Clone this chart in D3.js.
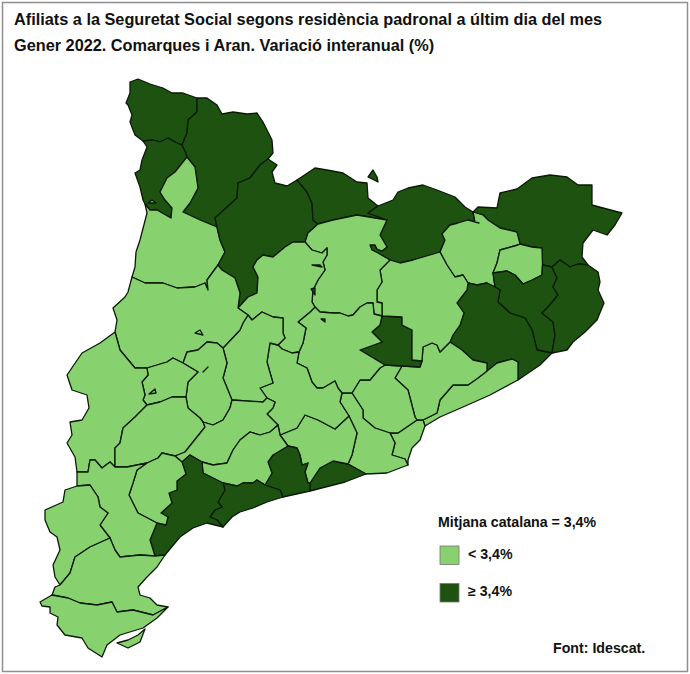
<!DOCTYPE html>
<html>
<head>
<meta charset="utf-8">
<script src="https://cdn.jsdelivr.net/npm/d3@7"></script>
<style>
  html, body { margin: 0; background: #fff; }
  text { font-family: "Liberation Sans", Arial, sans-serif; font-weight: bold; fill: #111; }
</style>
</head>
<body>
<div id="chart"></div>
<script>
const titols = [
  'Afiliats a la Seguretat Social segons residència padronal a últim dia del mes',
  'Gener 2022. Comarques i Aran. Variació interanual (%)'
];
const classes = ['< 3,4%', '≥ 3,4%'];
const mitjana = 'Mitjana catalana = 3,4%';
const font = 'Font: Idescat.';

// comarques above the catalan average, the rest are below
const sobreMitjana = ['Aran', 'Alta Ribagorça', 'Pallars Sobirà', 'Alt Urgell', 'Cerdanya', 'Ripollès',
  'Alt Empordà', 'Gironès', 'Baix Empordà', 'Selva', 'Moianès', 'Baix Penedès', 'Garraf', 'Tarragonès', 'Baix Camp'];

// shared borders
const vores = {
  aranExt: [[143,141],[135,135],[130,122],[132,115],[128,105],[126,103],[130,93],[130,82],[138,79],[150,84],[163,88],[172,93],[183,93],[197,98]],
  aranSob: [[197,98],[197,112],[188,120],[187,133],[182,145]],
  aranRib: [[182,145],[175,142],[168,138],[160,142],[153,140],[143,141]],
  ribSob: [[182,145],[186,153],[187,157]],
  ribExt: [[143,141],[147,147],[142,160],[140,170],[135,173],[140,187],[143,200],[145,204]],
  ribJus: [[187,157],[175,172],[167,178],[160,192],[165,200],[172,208],[171,218],[157,210],[150,210],[145,204]],
  sobJus: [[187,157],[195,167],[198,188],[190,203],[183,212],[200,220],[217,227]],
  sobAur: [[268,159],[260,165],[250,178],[238,183],[237,198],[215,218],[217,227]],
  sobExt: [[197,98],[207,98],[217,105],[222,114],[233,112],[247,114],[257,113],[263,122],[272,140],[273,153],[268,159]],
  jusAur: [[217,227],[220,240],[225,252],[218,265]],
  jusExt: [[145,204],[147,213],[140,240],[136,252],[135,267],[132,277]],
  jusNog: [[132,277],[145,283],[163,283],[177,288],[195,287],[205,283],[208,290],[207,280],[218,265]],
  aurExt: [[268,159],[277,165],[272,172],[275,183],[287,186],[297,180]],
  aurCer: [[297,180],[307,192],[312,203],[313,220],[318,224]],
  aurBer: [[318,224],[308,233],[305,242]],
  aurSol: [[305,242],[293,242],[285,247],[273,257],[263,255],[257,260],[253,267],[258,277],[257,293],[248,297],[238,308]],
  aurNog: [[238,308],[240,293],[235,278],[222,270],[218,265]],
  cerExt: [[297,180],[300,178],[315,168],[327,170],[343,173],[357,182],[367,183],[368,198],[378,206]],
  cerRip: [[378,206],[368,213],[387,220]],
  cerBer: [[387,220],[357,215],[333,220],[318,224]],
  ripExt: [[378,206],[393,200],[398,192],[408,188],[423,185],[437,190],[455,197],[465,207],[473,212]],
  ripGtx: [[473,212],[475,222],[479,223],[468,220],[458,223],[450,225],[442,234],[445,240],[440,252]],
  ripOso: [[440,252],[430,255],[413,260],[400,263],[390,260]],
  ripBer: [[390,260],[378,253],[372,250],[370,245],[375,245],[377,249],[382,251],[387,247],[380,235],[387,220]],
  aeExt: [[473,212],[478,207],[497,208],[500,193],[517,189],[532,178],[550,175],[567,177],[578,185],[592,185],[592,205],[603,208],[622,213],[615,225],[607,235],[593,230],[583,243],[582,257],[588,265]],
  aeGtx: [[473,212],[483,215],[488,220],[500,228],[517,232],[520,244]],
  aeEst: [[520,244],[532,247],[542,248],[542.5,265]],
  aeGir: [[542.5,265],[552,267]],
  aeBem: [[552,267],[560,260],[570,267],[578,264],[588,265]],
  gtxEst: [[520,244],[518,245],[500,250],[497,263],[493,273]],
  gtxGir: [[493,273],[495,287]],
  gtxSel: [[495,287],[487,283],[477,285],[468,283]],
  gtxOso: [[468,283],[463,275],[455,277],[447,265],[440,252]],
  estGir: [[493,273],[507,271],[515,275],[523,284],[532,280],[542,275],[542.5,265]],
  girBem: [[552,267],[557,278],[553,287],[558,295],[548,307],[542,313],[553,322],[555,335],[552,353]],
  girSel: [[495,287],[500,290],[498,302],[510,313],[525,318],[532,330],[535,342],[537,350],[552,353]],
  bemExt: [[588,265],[598,272],[600,282],[598,290],[604,303],[597,320],[585,332],[573,342],[567,350],[552,353]],
  selExt: [[552,353],[540,365],[518,380]],
  selOso: [[468,283],[467,290],[457,303],[464,313],[460,325],[453,335],[450,342]],
  selVor: [[450,342],[462,350],[473,360],[487,363],[487,371]],
  selMar: [[487,371],[497,363],[512,359],[518,362],[518,380]],
  marExt: [[518,380],[490,395],[463,407],[440,417],[425,426]],
  marVor: [[487,371],[478,378],[468,385],[453,385],[440,400],[437,413],[423,420]],
  marBar: [[423,420],[425,426]],
  barVor: [[417,420],[423,420]],
  barExt: [[425,426],[420,440],[412,448],[408,460],[408,465]],
  barLlo: [[390,433],[395,443],[392,455],[405,459],[408,465]],
  barVoc: [[390,433],[398,433],[417,420]],
  lloVoc: [[352,393],[363,410],[363,418],[375,428],[390,433]],
  lloExt: [[408,465],[400,468],[387,473],[366,474]],
  lloGrf: [[348,464],[366,474]],
  lloApe: [[349,416],[357,433],[352,455],[348,464]],
  lloAno: [[342,393],[340,402],[349,416]],
  lloBag: [[342,393],[352,393]],
  vocBag: [[352,393],[360,380],[370,380],[380,368],[385,365]],
  vocMoi: [[385,365],[402,366]],
  vocVor: [[402,366],[395,378],[408,390],[415,417],[417,420]],
  vorMoi: [[402,366],[420,367],[422,361]],
  vorOso: [[422,361],[423,347],[432,343],[437,345],[440,352],[450,342]],
  osoMoi: [[422,361],[412,360],[412,330],[402,325],[402,317],[382,316]],
  osoBer: [[390,260],[380,270],[382,282],[377,290],[377,302],[382,303],[382,316]],
  bagMoi: [[382,316],[380,325],[372,332],[382,342],[360,350],[385,365]],
  bagBer: [[315,307],[320,312],[333,313],[340,313],[348,316],[353,315],[360,307],[367,303],[373,303],[374,314],[382,316]],
  bagSol: [[315,307],[310,312],[298,322],[306,328],[303,343],[299,352]],
  bagAno: [[299,352],[297,363],[307,368],[312,382],[317,388],[323,388],[335,381],[338,388],[342,393]],
  solBer: [[305,242],[312,250],[322,253],[327,248],[327,255],[323,262],[325,270],[318,280],[313,290],[312,302],[315,307]],
  solAno: [[299,352],[292,353],[282,349],[278,345]],
  solSeg: [[278,345],[285,338],[283,333],[283,318],[273,317],[262,312],[252,320],[248,315]],
  solNog: [[238,308],[248,315]],
  segNog: [[248,315],[243,323],[240,330],[223,348]],
  segAno: [[278,345],[270,343],[267,362],[273,383],[260,388],[267,398]],
  segUrg: [[223,348],[227,363],[223,378],[232,400]],
  segCon: [[232,400],[263,402],[267,398]],
  conAno: [[267,398],[275,402],[273,408],[267,414],[278,425]],
  conCam: [[278,425],[270,432],[260,435],[250,432],[240,440],[233,450],[227,463],[213,465],[202,462]],
  conUrg: [[232,400],[230,408],[223,420],[213,425],[203,422]],
  conGar: [[203,422],[205,427],[197,437],[185,452],[175,456]],
  conPri: [[175,456],[182,462]],
  conBca: [[182,462],[190,455],[202,462]],
  urgGar: [[186,397],[188,408],[200,418],[203,422]],
  urgPla: [[183,363],[198,372],[188,382],[186,397]],
  urgNog: [[183,363],[187,352],[198,350],[207,342],[217,343],[223,348]],
  plaNog: [[147,368],[167,362],[173,358],[183,363]],
  plaSgr: [[147,368],[148,375],[142,382],[145,395],[143,400],[147,405]],
  plaGar: [[147,405],[160,402],[172,397],[186,397]],
  nogSgr: [[115,332],[120,350],[135,368],[147,368]],
  nogExt: [[132,277],[128,292],[125,297],[113,308],[117,320],[115,332]],
  sgrExt: [[115,332],[100,343],[82,353],[67,375],[72,390],[87,395],[89,408],[82,420],[70,422],[72,435],[67,443],[75,457],[77,472]],
  sgrRib: [[77,472],[88,472],[90,460],[95,460],[102,468],[110,462],[115,467]],
  sgrGar: [[147,405],[135,417],[123,428],[120,443],[115,448],[115,467]],
  garRib: [[115,467],[127,467],[147,463]],
  garPri: [[147,463],[158,458],[162,453],[175,456]],
  priRib: [[147,463],[137,470],[133,483],[129,495],[135,507],[138,513],[157,523]],
  priBca: [[157,523],[166,525],[168,517],[161,513],[172,503],[169,493],[177,490],[177,481],[186,474],[182,462]],
  ribBca: [[157,523],[150,540],[155,556]],
  bcaEbr: [[155,556],[165,555]],
  ribEbr: [[110,538],[115,550],[120,557],[140,555],[155,556]],
  ribTer: [[77,486],[90,485],[98,497],[100,507],[108,513],[100,525],[110,538]],
  ribExt2: [[77,472],[77,486]],
  terExt: [[77,486],[65,490],[63,502],[45,510],[45,520],[50,532],[57,537],[60,550],[53,565],[55,577],[60,585]],
  terEbr: [[60,585],[70,573],[75,557],[90,547],[110,538]],
  ebrExt: [[165,555],[157,567],[147,577],[138,587],[140,595],[150,598],[157,605],[168,607]],
  ebrMon: [[52,595],[68,598],[80,603],[97,605],[112,602],[117,612],[133,610],[153,615],[168,607]],
  ebrExt2: [[60,585],[55,587],[52,595]],
  monExt: [[52,595],[40,602],[42,606],[50,607],[50,613],[58,617],[57,625],[65,635],[82,638],[88,648],[102,657],[107,645],[120,635],[143,628],[157,618],[168,607]],
  bcaExt: [[223,527],[207,523],[193,528],[180,537],[165,555]],
  bcaTar: [[223,483],[225,490],[218,502],[222,507],[215,510],[210,517],[217,520],[223,527]],
  bcaCam: [[202,462],[203,473],[223,483]],
  tarCam: [[223,483],[237,486],[243,483],[253,483],[257,480],[265,485]],
  tarExt: [[283,497],[267,502],[253,508],[240,512],[232,517],[223,527]],
  tarBpe: [[265,485],[280,490],[283,497]],
  bpeCam: [[265,485],[272,473],[268,462],[273,455],[288,446]],
  bpeExt: [[310,491],[283,497]],
  bpeApe: [[288,446],[297,448],[300,455],[302,465],[308,463],[305,472],[308,483],[310,483]],
  bpeGrf: [[310,483],[310,491]],
  grfExt: [[366,474],[345,482],[310,491]],
  grfApe: [[310,483],[320,468],[333,461],[348,464]],
  apeAno: [[280,435],[297,428],[305,415],[318,420],[335,429],[349,416]],
  apeCam: [[280,435],[288,446]],
  anoCam: [[278,425],[280,435]]
};

// each comarca as its ring of borders, '-' walks a border backwards
const comarques = {
  'Aran': ['aranExt', 'aranSob', 'aranRib'],
  'Alta Ribagorça': ['-aranRib', 'ribSob', 'ribJus', '-ribExt'],
  'Pallars Sobirà': ['sobExt', 'sobAur', '-sobJus', '-ribSob', '-aranSob'],
  'Pallars Jussà': ['ribJus', 'jusExt', 'jusNog', '-jusAur', '-sobJus'],
  'Alt Urgell': ['aurExt', 'aurCer', 'aurBer', 'aurSol', 'aurNog', '-jusAur', '-sobAur'],
  'Cerdanya': ['cerExt', 'cerRip', 'cerBer', '-aurCer'],
  'Ripollès': ['ripExt', 'ripGtx', 'ripOso', 'ripBer', '-cerRip'],
  'Alt Empordà': ['aeExt', '-aeBem', '-aeGir', '-aeEst', '-aeGtx'],
  'Garrotxa': ['aeGtx', 'gtxEst', 'gtxGir', 'gtxSel', 'gtxOso', '-ripGtx'],
  'Pla de l\'Estany': ['aeEst', '-estGir', '-gtxEst'],
  'Gironès': ['estGir', 'aeGir', 'girBem', '-girSel', '-gtxGir'],
  'Baix Empordà': ['aeBem', 'bemExt', '-girBem'],
  'Selva': ['girSel', 'selExt', '-selMar', '-selVor', '-selOso', '-gtxSel'],
  'Maresme': ['selMar', 'marExt', '-marBar', '-marVor'],
  'Barcelonès': ['barVoc', 'barVor', 'marBar', 'barExt', '-barLlo'],
  'Vallès Oriental': ['vorMoi', 'vorOso', 'selVor', 'marVor', '-barVor', '-vocVor'],
  'Vallès Occidental': ['vocBag', 'vocMoi', 'vocVor', '-barVoc', '-lloVoc'],
  'Baix Llobregat': ['lloBag', 'lloVoc', 'barLlo', 'lloExt', '-lloGrf', '-lloApe', '-lloAno'],
  'Garraf': ['grfApe', 'lloGrf', 'grfExt', '-bpeGrf'],
  'Alt Penedès': ['apeAno', 'lloApe', '-grfApe', '-bpeApe', '-apeCam'],
  'Baix Penedès': ['bpeApe', 'bpeGrf', 'bpeExt', '-tarBpe', 'bpeCam'],
  'Moianès': ['bagMoi', 'vocMoi', 'vorMoi', 'osoMoi'],
  'Osona': ['-ripOso', '-gtxOso', 'selOso', '-vorOso', 'osoMoi', '-osoBer'],
  'Berguedà': ['-aurBer', '-cerBer', '-ripBer', 'osoBer', '-bagBer', '-solBer'],
  'Bages': ['bagBer', 'bagMoi', '-vocBag', '-lloBag', '-bagAno', '-bagSol'],
  'Solsonès': ['solBer', 'bagSol', 'solAno', 'solSeg', '-solNog', '-aurSol'],
  'Anoia': ['bagAno', 'lloAno', '-apeAno', '-anoCam', '-conAno', '-segAno', '-solAno'],
  'Segarra': ['-solSeg', 'segAno', '-segCon', '-segUrg', '-segNog'],
  'Noguera': ['jusNog', '-aurNog', 'solNog', 'segNog', '-urgNog', '-plaNog', '-nogSgr', '-nogExt'],
  'Urgell': ['urgNog', 'segUrg', 'conUrg', '-urgGar', '-urgPla'],
  'Pla d\'Urgell': ['plaNog', 'urgPla', '-plaGar', '-plaSgr'],
  'Segrià': ['nogSgr', 'plaSgr', 'sgrGar', '-sgrRib', '-sgrExt'],
  'Garrigues': ['plaGar', 'urgGar', 'conGar', '-garPri', '-garRib', '-sgrGar'],
  'Conca de Barberà': ['segCon', 'conAno', 'conCam', '-conBca', '-conPri', '-conGar', '-conUrg'],
  'Alt Camp': ['anoCam', 'apeCam', '-bpeCam', '-tarCam', '-bcaCam', '-conCam'],
  'Tarragonès': ['tarCam', 'tarBpe', 'tarExt', '-bcaTar'],
  'Baix Camp': ['conBca', 'bcaCam', 'bcaTar', 'bcaExt', '-bcaEbr', '-ribBca', 'priBca'],
  'Priorat': ['garPri', 'conPri', '-priBca', '-priRib'],
  'Ribera d\'Ebre': ['sgrRib', 'garRib', 'priRib', 'ribBca', '-ribEbr', '-ribTer', '-ribExt2'],
  'Terra Alta': ['terExt', 'terEbr', '-ribTer'],
  'Baix Ebre': ['terEbr', 'ribEbr', 'bcaEbr', 'ebrExt', '-ebrMon', '-ebrExt2'],
  'Montsià': ['monExt', '-ebrMon']
};

// small separate pieces
const enclavaments = [
  {classe: 1, anell: [[368,177],[373,170],[377,177],[378,182],[370,182]]},
  {classe: 0, anell: [[148,203],[152,200],[156,203],[153,206]]},
  {classe: 0, anell: [[117,643],[128,640],[138,635],[145,629],[140,642],[128,648],[120,650]]},
  {classe: 0, anell: [[312,265],[320,265],[322,267],[314,268]]},
  {classe: 0, anell: [[195,333],[200,330],[203,335],[197,340]]},
  {classe: 0, anell: [[203,372],[208,367],[206,371]]},
  {classe: 0, anell: [[149,394],[155,389],[156,393],[151,396]]},
  {classe: 1, anell: [[311,289],[315,288],[315,295],[311,295]]},
  {classe: 1, anell: [[321,319],[325,319],[325,322],[321,322]]}
];

const width = 690;
const height = 674;
const colors = d3.scaleOrdinal().domain([0, 1]).range(['#88d16f', '#1d5210']);

function anell(noms) {
  return d3.merge(noms.map((nom) => {
    let vora = vores[nom.replace('-', '')];
    return nom[0] === '-' ? vora.slice().reverse() : vora;
  }));
}

let features = Object.keys(comarques).map((nom) => {
  return {
    type: 'Feature',
    properties: {nom, classe: sobreMitjana.includes(nom) ? 1 : 0},
    geometry: {type: 'Polygon', coordinates: [anell(comarques[nom])]}
  };
});
enclavaments.forEach((e) => {
  features.push({
    type: 'Feature',
    properties: {nom: 'enclavament', classe: e.classe},
    geometry: {type: 'Polygon', coordinates: [e.anell]}
  });
});

let svg = d3.select('#chart').append('svg')
  .attr('width', width)
  .attr('height', height)
  .attr('viewBox', `0 0 ${width} ${height}`)
  .style('display', 'block');

svg.append('rect')
  .attr('x', 2.5).attr('y', 2.5)
  .attr('width', 685).attr('height', 669)
  .attr('fill', '#fff')
  .attr('stroke', '#8f8f8f')
  .attr('stroke-width', 1.5);

let path = d3.geoPath(d3.geoIdentity());

svg.append('g').selectAll('path')
  .data(features)
  .enter()
  .append('path')
  .attr('d', path)
  .attr('fill', (d) => colors(d.properties.classe))
  .attr('stroke', '#0a1a06')
  .attr('stroke-width', 1.3)
  .attr('stroke-linejoin', 'round')
  .append('title')
  .text((d) => d.properties.nom);

svg.selectAll('.titol')
  .data(titols)
  .enter()
  .append('text')
  .attr('class', 'titol')
  .attr('x', 14)
  .attr('y', (d, i) => 25 + i * 26)
  .attr('font-size', 16.3)
  .text((d) => d);

svg.append('text')
  .attr('x', 438).attr('y', 527)
  .attr('font-size', 14.2)
  .text(mitjana);

let legend = svg.selectAll('.llegenda')
  .data(classes)
  .enter()
  .append('g')
  .attr('class', 'llegenda')
  .attr('transform', (d, i) => `translate(440,${546 + i * 37.5})`);

legend.append('rect')
  .attr('width', 19)
  .attr('height', 18.5)
  .attr('fill', (d, i) => colors(i))
  .attr('stroke', '#777')
  .attr('stroke-width', 0.8);

legend.append('text')
  .attr('x', 28)
  .attr('y', 12.5)
  .attr('font-size', 14.2)
  .text((d) => d);

svg.append('text')
  .attr('x', 553).attr('y', 653)
  .attr('font-size', 14.2)
  .text(font);
</script>
</body>
</html>
